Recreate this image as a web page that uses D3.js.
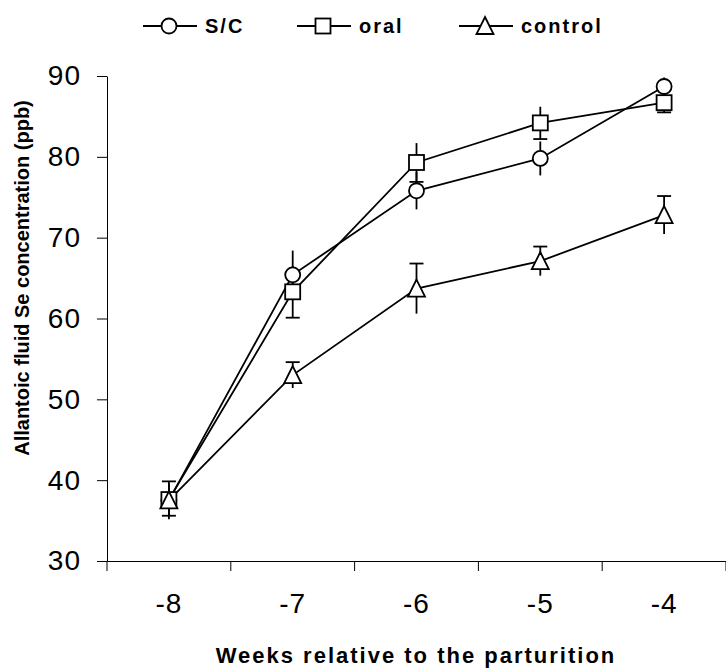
<!DOCTYPE html>
<html>
<head>
<meta charset="utf-8">
<script src="https://cdn.jsdelivr.net/npm/d3@7"></script>
<style>
  body { margin: 0; background: #fff; }
  svg text { font-family: Arial, "Liberation Sans", sans-serif; fill: #000; }
</style>
</head>
<body>
<script>
// data
var weeks = ["-8", "-7", "-6", "-5", "-4"];
var yTicks = [30, 40, 50, 60, 70, 80, 90];

var scMean = [37.5, 65.4, 75.8, 79.8, 88.7];
var scErr = [2.0, 3.0, 2.3, 2.1, 1.1];

var oralMean = [37.6, 63.3, 79.3, 84.2, 86.7];
var oralErr = [2.0, 3.2, 2.4, 2.0, 1.2];

var controlMean = [37.5, 53.0, 63.7, 67.1, 72.8];
var controlErr = [2.35, 1.6, 3.1, 1.8, 2.35];

var series = [
    { name: "S/C", mean: scMean, err: scErr, shape: "circle", cap: "none" },
    { name: "oral", mean: oralMean, err: oralErr, shape: "square", cap: "bottom" },
    { name: "control", mean: controlMean, err: controlErr, shape: "triangle", cap: "top" }
];

var width = 726, height = 671;
var mLeft = 107, mRight = 726, mTop = 76, mBottom = 561;

var svg = d3.select("body").append("svg")
    .attr("width", width)
    .attr("height", height);

svg.append("rect").attr("width", width).attr("height", height).attr("fill", "#fff");

var x = d3.scaleBand().domain(weeks).range([mLeft, mRight]);
var y = d3.scaleLinear().domain([30, 90]).range([mBottom, mTop]);

// y axis
var yAxis = svg.append("g")
    .attr("transform", "translate(" + mLeft + ",0)")
    .call(d3.axisLeft(y).tickValues(yTicks).tickSize(10).tickSizeOuter(0).tickPadding(16));
yAxis.selectAll("text").style("font-size", "28px").style("letter-spacing", "1px");

// x axis, ticks between the categories
var xAxis = svg.append("g")
    .attr("transform", "translate(0," + mBottom + ")")
    .call(d3.axisBottom(x).tickSize(0).tickSizeOuter(0).tickPadding(32));
xAxis.selectAll("text").style("font-size", "28px").style("letter-spacing", "1px");
var bounds = weeks.map(function (w) { return x(w); }).concat([mRight]);
xAxis.selectAll(".sep")
    .data(bounds)
    .enter()
    .append("line")
    .attr("x1", function (d) { return d; })
    .attr("x2", function (d) { return d; })
    .attr("y1", 0)
    .attr("y2", 10)
    .attr("stroke", "#000");

svg.selectAll(".domain").attr("stroke", "#000");
svg.selectAll(".tick line").attr("stroke", "#000");

// axis titles
svg.append("text")
    .attr("transform", "translate(29,278) rotate(-90)")
    .attr("text-anchor", "middle")
    .style("font-size", "20px")
    .style("font-weight", "bold")
    .text("Allantoic fluid Se concentration (ppb)");

svg.append("text")
    .attr("x", 416)
    .attr("y", 663)
    .attr("text-anchor", "middle")
    .style("font-size", "22px")
    .style("font-weight", "bold")
    .style("letter-spacing", "2px")
    .text("Weeks relative to the parturition");

var cx = function (i) { return x(weeks[i]) + x.bandwidth() / 2; };

function drawMarker(g, shape, px, py) {
    if (shape === "circle") {
        g.append("circle").attr("cx", px).attr("cy", py).attr("r", 7.5)
            .attr("fill", "#fff").attr("stroke", "#000").attr("stroke-width", 1.8);
    } else if (shape === "square") {
        g.append("rect").attr("x", px - 7.5).attr("y", py - 7.5).attr("width", 15).attr("height", 15)
            .attr("fill", "#fff").attr("stroke", "#000").attr("stroke-width", 1.8);
    } else {
        g.append("path")
            .attr("d", "M" + px + "," + (py - 9) + "L" + (px + 8.5) + "," + (py + 8) + "L" + (px - 8.5) + "," + (py + 8) + "Z")
            .attr("fill", "#fff").attr("stroke", "#000").attr("stroke-width", 1.8);
    }
}

var line = d3.line()
    .x(function (d, i) { return cx(i); })
    .y(function (d) { return y(d); });

// lines
series.forEach(function (s) {
    svg.append("path")
        .attr("d", line(s.mean))
        .attr("fill", "none")
        .attr("stroke", "#000")
        .attr("stroke-width", 1.8);
});

// error bars
series.forEach(function (s) {
    var g = svg.append("g");
    s.mean.forEach(function (m, i) {
        var px = cx(i);
        g.append("line")
            .attr("x1", px).attr("x2", px)
            .attr("y1", y(m - s.err[i])).attr("y2", y(m + s.err[i]))
            .attr("stroke", "#000").attr("stroke-width", 1.8);
        if (s.cap !== "none") {
            var cy = s.cap === "top" ? y(m + s.err[i]) : y(m - s.err[i]);
            g.append("line")
                .attr("x1", px - 7).attr("x2", px + 7)
                .attr("y1", cy).attr("y2", cy)
                .attr("stroke", "#000").attr("stroke-width", 1.8);
        }
    });
});

// markers
series.forEach(function (s) {
    var g = svg.append("g");
    s.mean.forEach(function (m, i) {
        drawMarker(g, s.shape, cx(i), y(m));
    });
});

// legend
var legendX = [143, 297, 459];
series.forEach(function (s, i) {
    var g = svg.append("g").attr("transform", "translate(" + legendX[i] + ",26)");
    g.append("line").attr("x1", 0).attr("x2", 54).attr("y1", 0).attr("y2", 0)
        .attr("stroke", "#000").attr("stroke-width", 1.8);
    drawMarker(g, s.shape, 26, 0);
    g.append("text")
        .attr("x", 62)
        .attr("y", 7)
        .style("font-size", "20px")
        .style("font-weight", "bold")
        .style("letter-spacing", "2px")
        .text(s.name);
});
</script>
</body>
</html>
